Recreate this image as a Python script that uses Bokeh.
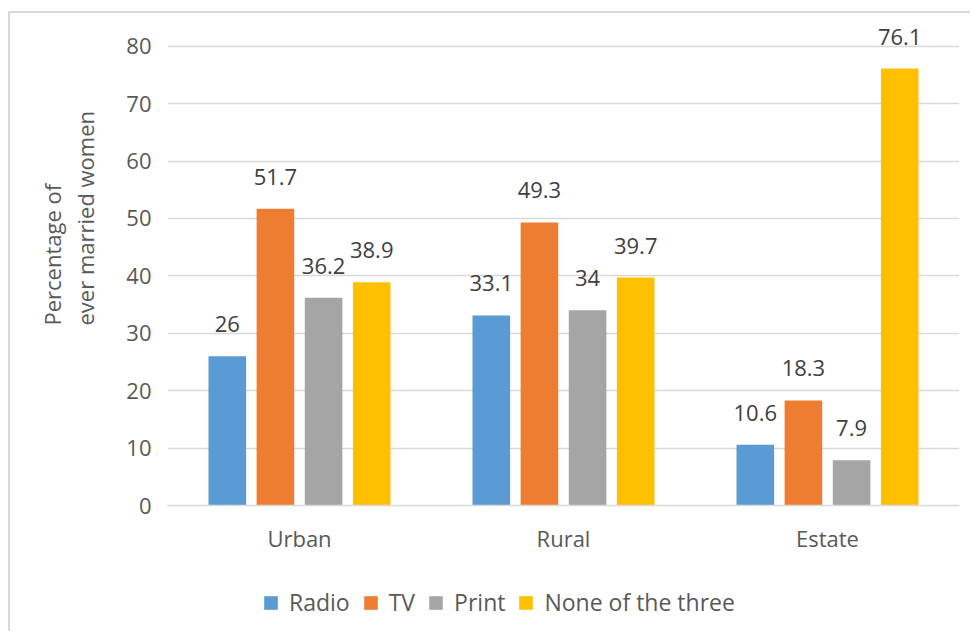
from bokeh.plotting import figure
from bokeh.layouts import column
from bokeh.models import (ColumnDataSource, FactorRange, Range1d, FixedTicker,
                          LabelSet, Legend, LegendItem, Title)
from bokeh.transform import dodge
from bokeh.core.properties import value
from bokeh.embed import file_html
from bokeh.resources import INLINE

categories = ["Urban", "Rural", "Estate"]
series_names = ["Radio", "TV", "Print", "None of the three"]
radio = [26, 33.1, 10.6]
tv = [51.7, 49.3, 18.3]
print_media = [36.2, 34, 7.9]
none_three = [38.9, 39.7, 76.1]
y_ticks = [0, 10, 20, 30, 40, 50, 60, 70, 80]
y_title = "Percentage of\never married women"

colors = ["#5B9BD5", "#ED7D31", "#A5A5A5", "#FFC000"]
offsets = [-0.2735, -0.0912, 0.0912, 0.2735]
bar_w = 0.1424

FONT = "Open Sans"
TXT = "#595959"

p = figure(x_range=FactorRange(*categories, range_padding=0),
           y_range=Range1d(0, 85),
           width=960, height=562, output_backend="svg", toolbar_location=None,
           min_border_left=157, min_border_right=11, min_border_top=4,
           min_border_bottom=70)
p.outline_line_color = None
p.background_fill_color = "white"
p.border_fill_color = "white"

p.xgrid.grid_line_color = None
p.ygrid.grid_line_color = "#d9d9d9"
p.ygrid.grid_line_width = 1.5
p.ygrid.ticker = FixedTicker(ticks=y_ticks)

p.yaxis.ticker = FixedTicker(ticks=y_ticks)
p.yaxis.axis_line_color = None
p.yaxis.major_tick_line_color = None
p.yaxis.minor_tick_line_color = None
p.yaxis.major_label_standoff = 10
p.yaxis.major_label_text_font = FONT
p.yaxis.major_label_text_font_size = "22px"
p.yaxis.major_label_text_color = TXT

p.xaxis.axis_line_color = "#d9d9d9"
p.xaxis.axis_line_width = 1.5
p.xaxis.major_tick_line_color = None
p.xaxis.minor_tick_line_color = None
p.xaxis.major_label_standoff = 11
p.xaxis.major_label_text_font = FONT
p.xaxis.major_label_text_font_size = "22px"
p.xaxis.major_label_text_color = TXT

source = ColumnDataSource(data=dict(
    cat=categories,
    radio=radio, tv=tv, prt=print_media, none=none_three,
    radio_t=[f"{v:g}" for v in radio],
    tv_t=[f"{v:g}" for v in tv],
    prt_t=[f"{v:g}" for v in print_media],
    none_t=[f"{v:g}" for v in none_three],
))

# legend strip (separate small figure so the legend is not clipped)
lg = figure(width=960, height=56, output_backend="svg", toolbar_location=None,
            x_axis_type=None, y_axis_type=None,
            min_border_left=0, min_border_right=0, min_border_top=0,
            min_border_bottom=0)
lg.outline_line_color = None
lg.xgrid.grid_line_color = None
lg.ygrid.grid_line_color = None
# legend-only renderers: one undefined (NaN) row each, so nothing is drawn
swatch = ColumnDataSource(data=dict(x=[float("nan")], top=[float("nan")]))

items = []
for key, name, col, off in zip(["radio", "tv", "prt", "none"], series_names, colors, offsets):
    p.vbar(x=dodge("cat", off, range=p.x_range), top=key, width=bar_w,
           source=source, fill_color=col, line_color=None)
    lr = lg.vbar(x="x", top="top", width=1, source=swatch, fill_color=col, line_color=None)
    items.append(LegendItem(label=name, renderers=[lr]))
    lbl = LabelSet(x=dodge("cat", off, range=p.x_range), y=key, text=key + "_t",
                   source=source, y_offset=32, text_align="center",
                   text_baseline="middle", text_font=value(FONT),
                   text_font_size="22px", text_color="#404040")
    p.add_layout(lbl)

legend = Legend(items=items, location=(95, 13), orientation="horizontal",
                padding=0, margin=0, spacing=12, label_standoff=10,
                glyph_width=17, glyph_height=17,
                label_text_font=FONT, label_text_font_size="23px",
                label_text_color=TXT, border_line_color=None,
                background_fill_alpha=0)
lg.add_layout(legend, "center")

t = Title(text=y_title, align="left", offset=180, text_font=FONT,
          text_font_size="22px", text_font_style="normal", text_color=TXT,
          standoff=48, text_line_height=1.1)
p.add_layout(t, "left")

layout = column(p, lg, spacing=0)
layout.margin = (11, 0, 0, 8)
layout.styles = {"border-top": "2px solid #d9d9d9", "border-left": "2px solid #d9d9d9",
                 "background-color": "white"}

open("out.html", "w").write(file_html(layout, INLINE))
